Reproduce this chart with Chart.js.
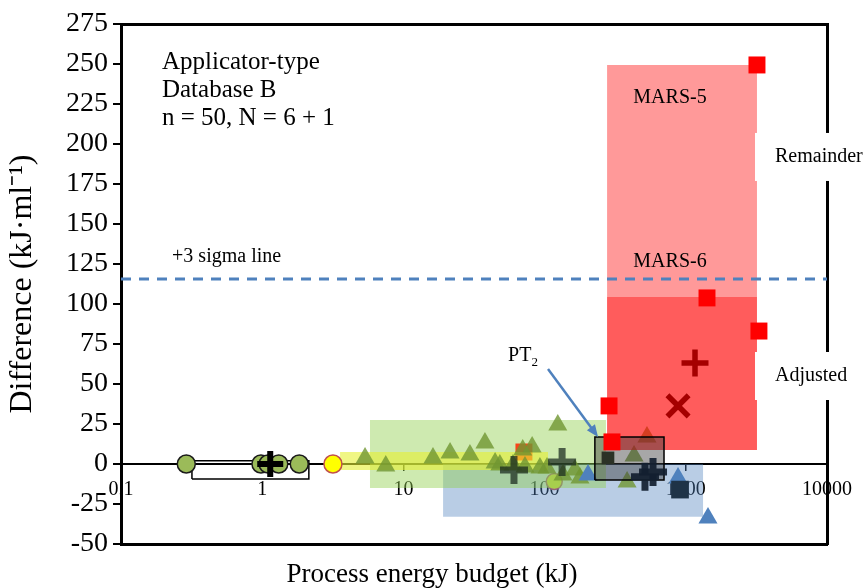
<!DOCTYPE html>
<html>
<head>
<meta charset="utf-8">
<script src="https://cdn.jsdelivr.net/npm/chart.js@4.4.1/dist/chart.umd.min.js"></script>
<style>
  html, body { margin: 0; padding: 0; background: #fff; }
</style>
</head>
<body>
<canvas id="energyChart" width="863" height="588"></canvas>
<script>
// axis ticks
var xTickValues = [0.1, 1, 10, 100, 1000, 10000];
var yMin = -50, yMax = 275, yStep = 25;

// markers (process energy budget kJ, difference kJ/ml)
var circleX = [0.29, 0.98, 1.10, 1.31, 1.83];
var circleY = [0, 0, 0, 0, 0];
var greenTriX = [5.35, 7.5, 16.2, 21.4, 29.6, 37.8, 44.6, 48.2, 59.7, 70, 72.6, 81.6, 92.7, 104, 124, 135, 164, 178, 384, 430, 531];
var greenTriY = [3.8, -1.3, 3.8, 6.9, 5.6, 13.1, 0.6, -0.6, -0.6, 8.8, -1.9, 10.6, -2.5, -2.5, 24.4, -6.9, -3.8, -8.8, -11.3, 5, 16.9];
var blueTriX = [203, 881, 1436];
var blueTriY = [-6.9, -8.8, -33.8];
var redSqX = [3192, 1413, 3296, 286, 300];
var redSqY = [249.4, 103.8, 83.1, 36.3, 13.8];
var fadedSqX = [71.4];
var fadedSqY = [7.5];
var darkPlusX = [60.7, 133];
var darkPlusY = [-3.8, 1.3];
var navyPlusX = [514, 586];
var navyPlusY = [-8, -5];
var darkSqX = [281];
var darkSqY = [3.8];
var navySqX = [910];
var navySqY = [-16];
var blackPlusX = [1.14];
var blackPlusY = [0];
var marsPlusX = [1162];
var marsPlusY = [63.1];
var marsCrossX = [881];
var marsCrossY = [36.3];
var yellowX = [3.17];
var yellowY = [0];
var hiddenYellowX = [117];
var hiddenYellowY = [-11];

// ranges: [x from, x to, y from, y to]
var blueBand = [19.1, 1325, -33, 0];
var greenBand = [5.8, 272, -15, 27.5];
var yellowBand = [3.56, 105.7, -3.75, 7.5];
var circleBox = [0.318, 2.14, -9.4, 2];
var pt2Box = [227, 701, -10, 16.9];
var mars5Band = [277, 3192, 8.75, 249.4];
var mars6Band = [277, 3192, 8.75, 104.4];
var sigmaLevel = 115.6;
var pt2Arrow = [105.7, 59.4, 239, 16.9];

var infoLines = ['Applicator-type', 'Database B', 'n = 50, N = 6 + 1'];

var serif = "'Liberation Serif', 'Times New Roman', serif";

function pts(xs, ys) {
    return xs.map(function (x, i) { return { x: x, y: ys[i] }; });
}

function boxPts(r) {
    return pts([r[0], r[1], r[1], r[0], r[0]], [r[2], r[2], r[3], r[3], r[2]]);
}

function boxSet(r, fillColor, lineColor, lineW, order) {
    return {
        type: 'line',
        data: boxPts(r),
        backgroundColor: fillColor || 'rgba(0,0,0,0)',
        borderColor: lineColor || 'rgba(0,0,0,0)',
        borderWidth: lineW || 1,
        fill: fillColor ? 'shape' : false,
        pointRadius: 0,
        tension: 0,
        order: order
    };
}

function markSet(xs, ys, style, r, fill, stroke, bw, order) {
    return {
        data: pts(xs, ys),
        pointStyle: style,
        pointRadius: r,
        backgroundColor: fill,
        borderColor: stroke,
        borderWidth: bw,
        order: order
    };
}

var notesPlugin = {
    id: 'notes',
    afterDraw: function (chart) {
        var ctx = chart.ctx;
        var xs = chart.scales.x, ys = chart.scales.y;
        var area = chart.chartArea;
        ctx.save();
        ctx.fillStyle = '#000';
        ctx.textBaseline = 'middle';

        // info block
        ctx.textAlign = 'left';
        ctx.font = '25px ' + serif;
        var ix = xs.getPixelForValue(0.195), iy = ys.getPixelForValue(251.25);
        infoLines.forEach(function (t, i) { ctx.fillText(t, ix, iy + i * 28); });

        ctx.font = '20px ' + serif;
        ctx.fillText('+3 sigma line', xs.getPixelForValue(0.23), ys.getPixelForValue(129.4));

        ctx.textAlign = 'center';
        ctx.fillText('MARS-5', xs.getPixelForValue(773), ys.getPixelForValue(228.75));
        ctx.fillText('MARS-6', xs.getPixelForValue(773), ys.getPixelForValue(126.25));

        // side labels on white boxes, breaking the frame
        ctx.textAlign = 'left';
        [['Remainder', 191.9], ['Adjusted', 55]].forEach(function (lab) {
            var cy = ys.getPixelForValue(lab[1]);
            ctx.fillStyle = '#fff';
            ctx.fillRect(area.right - 72, cy - 24, 120, 48);
            ctx.fillStyle = '#000';
            ctx.fillText(lab[0], area.right - 52, cy);
        });

        // PT2 label
        var px = xs.getPixelForValue(55.1), py = ys.getPixelForValue(67.5);
        ctx.fillText('PT', px, py);
        var w = ctx.measureText('PT').width;
        ctx.font = '13px ' + serif;
        ctx.fillText('2', px + w, py + 7);

        // arrow to PT2 box
        var ax0 = xs.getPixelForValue(pt2Arrow[0]), ay0 = ys.getPixelForValue(pt2Arrow[1]);
        var ax1 = xs.getPixelForValue(pt2Arrow[2]), ay1 = ys.getPixelForValue(pt2Arrow[3]);
        var ang = Math.atan2(ay1 - ay0, ax1 - ax0);
        ctx.strokeStyle = '#4F81BD';
        ctx.fillStyle = '#4F81BD';
        ctx.lineWidth = 2.5;
        ctx.beginPath();
        ctx.moveTo(ax0, ay0);
        ctx.lineTo(ax1 - 8 * Math.cos(ang), ay1 - 8 * Math.sin(ang));
        ctx.stroke();
        ctx.beginPath();
        ctx.moveTo(ax1, ay1);
        ctx.lineTo(ax1 - 12 * Math.cos(ang) + 5 * Math.sin(ang), ay1 - 12 * Math.sin(ang) - 5 * Math.cos(ang));
        ctx.lineTo(ax1 - 12 * Math.cos(ang) - 5 * Math.sin(ang), ay1 - 12 * Math.sin(ang) + 5 * Math.cos(ang));
        ctx.closePath();
        ctx.fill();

        // x axis title
        ctx.fillStyle = '#000';
        ctx.textAlign = 'center';
        ctx.font = '27px ' + serif;
        ctx.fillText('Process energy budget (kJ)', 432, 575);
        ctx.restore();
    }
};

var datasets = [
    boxSet(blueBand, 'rgba(79,129,189,0.4)', null, 0, 100),
    markSet(hiddenYellowX, hiddenYellowY, 'circle', 8, '#FFFF00', '#C0504D', 1.5, 101),
    boxSet(greenBand, 'rgba(146,208,80,0.45)', null, 0, 99),
    markSet(fadedSqX, fadedSqY, 'rect', 12, 'rgba(255,40,0,0.85)', 'rgba(0,0,0,0)', 0, 98),
    boxSet(yellowBand, 'rgba(230,240,50,0.6)', null, 0, 97),
    boxSet(circleBox, null, '#000', 1.5, 96),
    markSet(circleX, circleY, 'circle', 9, '#9BBB59', '#1a1a1a', 1.5, 95),
    markSet(greenTriX, greenTriY, 'triangle', 11, 'rgba(112,150,50,0.8)', 'rgba(0,0,0,0)', 0, 94),
    markSet(blueTriX, blueTriY, 'triangle', 11, '#4F81BD', 'rgba(0,0,0,0)', 0, 93),
    boxSet(mars5Band, 'rgba(255,0,0,0.4)', null, 0, 92),
    boxSet(mars6Band, 'rgba(255,0,0,0.4)', null, 0, 91),
    markSet(darkSqX, darkSqY, 'rect', 9, '#1e2a14', 'rgba(0,0,0,0)', 0, 90),
    boxSet(pt2Box, 'rgba(60,60,60,0.45)', '#000', 1.5, 89),
    {
        type: 'line',
        data: pts([0.1, 10000], [sigmaLevel, sigmaLevel]),
        borderColor: '#4F81BD',
        borderWidth: 3,
        borderDash: [10, 8],
        pointRadius: 0,
        fill: false,
        order: 88
    },
    markSet(darkPlusX, darkPlusY, 'cross', 14, 'rgba(0,0,0,0)', 'rgba(25,40,30,0.72)', 7, 80),
    markSet(navyPlusX, navyPlusY, 'cross', 14, 'rgba(0,0,0,0)', 'rgba(20,32,48,0.92)', 7, 80),
    markSet(navySqX, navySqY, 'rect', 12.5, '#1F3347', 'rgba(0,0,0,0)', 0, 80),
    markSet(redSqX, redSqY, 'rect', 12, '#FF0000', 'rgba(0,0,0,0)', 0, 79),
    markSet(marsPlusX, marsPlusY, 'cross', 13.5, 'rgba(0,0,0,0)', '#A50000', 5.5, 78),
    markSet(marsCrossX, marsCrossY, 'crossRot', 15, 'rgba(0,0,0,0)', '#A50000', 5.5, 78),
    markSet(blackPlusX, blackPlusY, 'cross', 13, 'rgba(0,0,0,0)', '#000', 6, 77),
    markSet(yellowX, yellowY, 'circle', 9, '#FFFF00', '#C0504D', 1.5, 76)
];

var ctx = document.getElementById('energyChart').getContext('2d');

new Chart(ctx, {
    type: 'scatter',
    data: { datasets: datasets },
    options: {
        responsive: false,
        animation: false,
        events: [],
        layout: { padding: { left: 0, right: 36, top: 24, bottom: 0 } },
        plugins: {
            legend: { display: false },
            tooltip: { enabled: false }
        },
        scales: {
            x: {
                type: 'logarithmic',
                position: { y: 0 },
                min: 0.1,
                max: 10000,
                afterBuildTicks: function (s) {
                    s.ticks = xTickValues.map(function (v) { return { value: v }; });
                },
                afterFit: function (s) { s.height = 0; },
                ticks: {
                    callback: function (v) { return String(v); },
                    font: { family: serif, size: 20 },
                    color: '#000',
                    padding: 8,
                    maxRotation: 0,
                    autoSkip: false
                },
                grid: { drawOnChartArea: false, tickLength: 6, color: '#000', lineWidth: 1.5 },
                border: { color: '#000', width: 2 }
            },
            x2: {
                type: 'logarithmic',
                position: 'bottom',
                min: 0.1,
                max: 10000,
                ticks: { display: false },
                grid: { display: false },
                border: { color: '#000', width: 3 },
                afterFit: function (s) { s.height = 44; }
            },
            x3: {
                type: 'logarithmic',
                position: 'top',
                min: 0.1,
                max: 10000,
                ticks: { display: false },
                grid: { display: false },
                border: { color: '#000', width: 3 },
                afterFit: function (s) { s.height = 0; }
            },
            y: {
                min: yMin,
                max: yMax,
                ticks: {
                    stepSize: yStep,
                    font: { family: serif, size: 28 },
                    color: '#000',
                    padding: 5
                },
                grid: { drawOnChartArea: false, tickLength: 8, color: '#000', lineWidth: 2 },
                border: { color: '#000', width: 3 },
                title: {
                    display: true,
                    text: 'Difference (kJ·ml⁻¹)',
                    font: { family: serif, size: 32, lineHeight: 1 },
                    color: '#000',
                    padding: { top: 7, bottom: 0 }
                },
                afterFit: function (s) { s.width = 121; }
            },
            y2: {
                position: 'right',
                min: yMin,
                max: yMax,
                ticks: { display: false },
                grid: { display: false },
                border: { color: '#000', width: 3 },
                afterFit: function (s) { s.width = 0; }
            }
        }
    },
    plugins: [notesPlugin]
});
</script>
</body>
</html>
